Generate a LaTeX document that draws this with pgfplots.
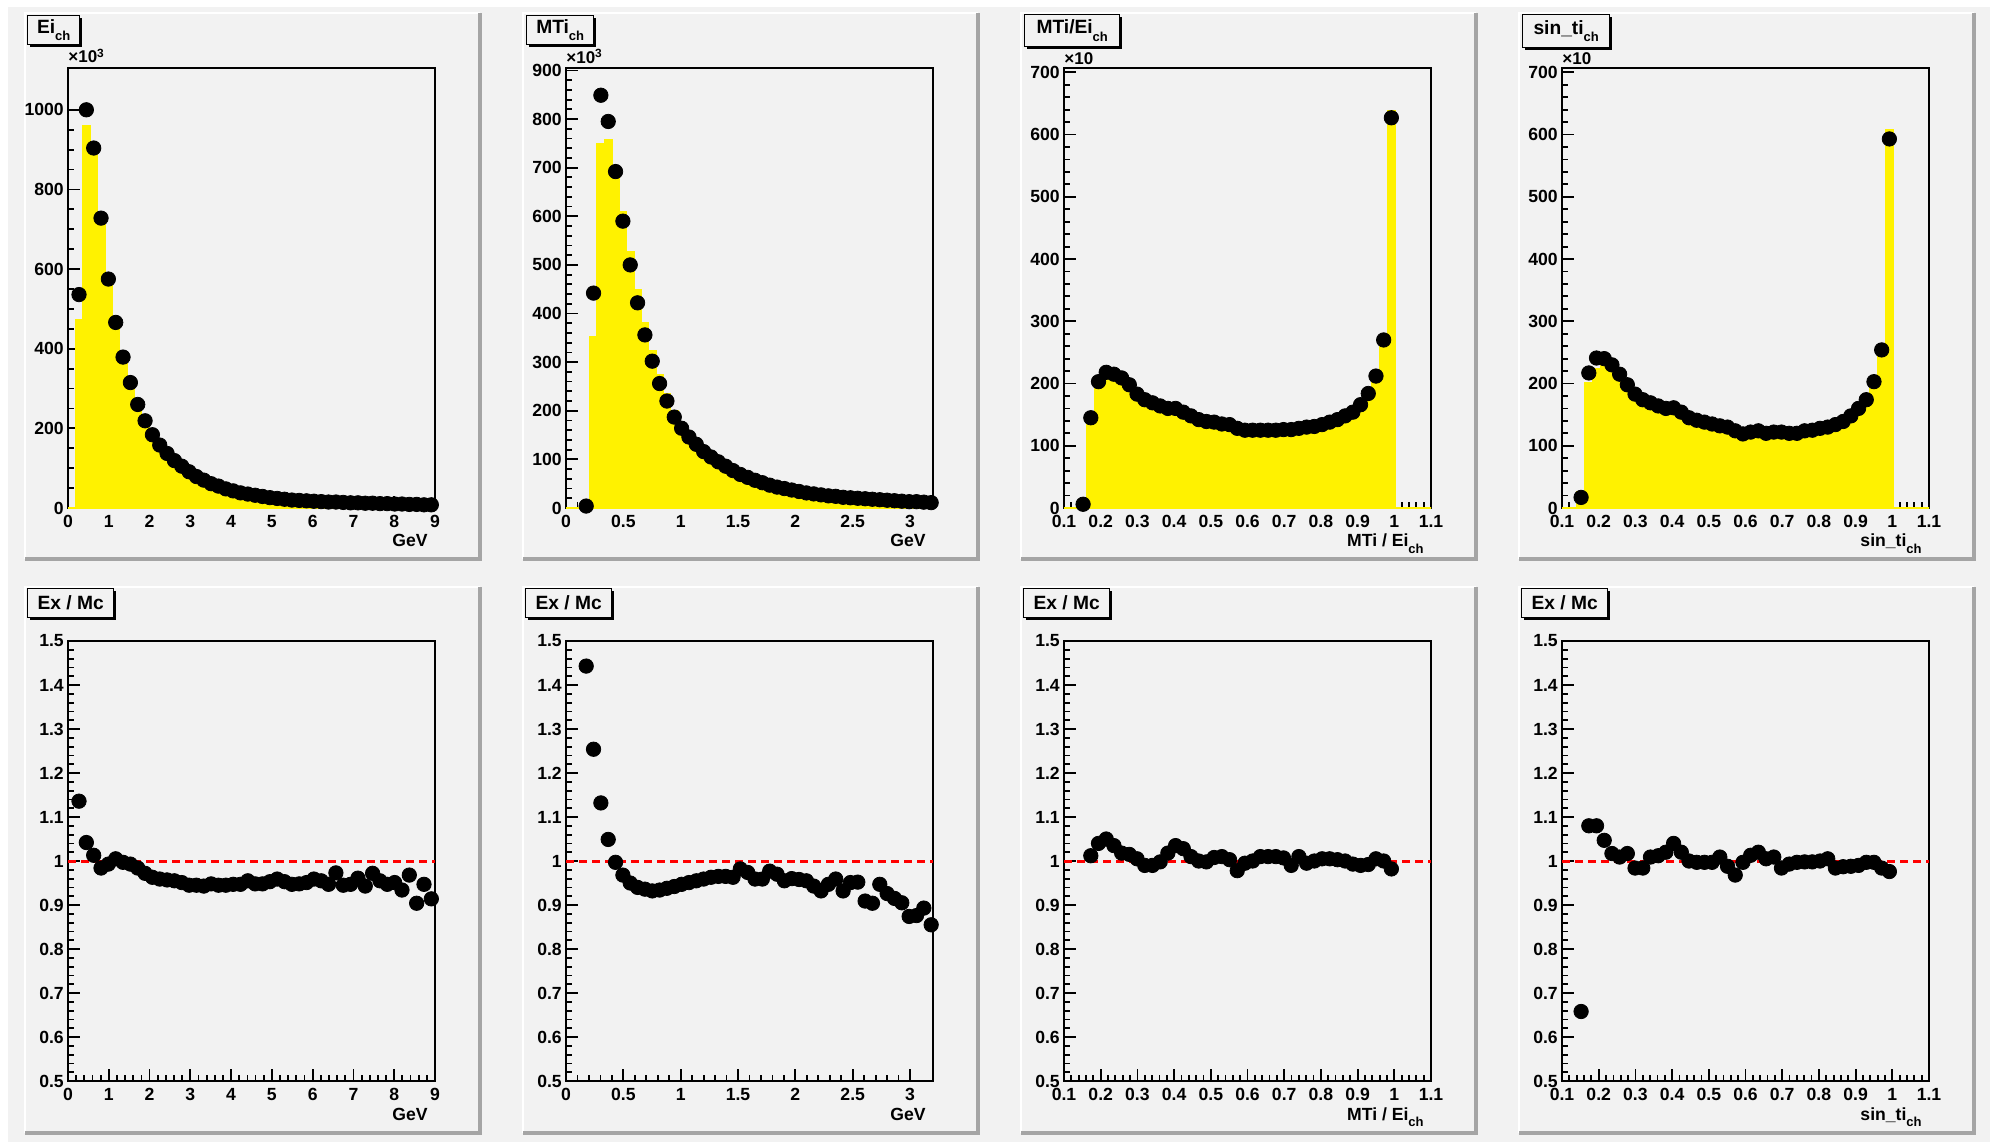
\documentclass[border=0pt]{standalone}
\usepackage{fontspec}
\setmainfont{Liberation Sans}
\usepackage{pgfplots}
\pgfplotsset{compat=1.18}
\usepackage{pgfplotstable}
\usetikzlibrary{shadows}
\definecolor{padgray}{RGB}{242,242,242}
\definecolor{bevel}{RGB}{165,165,165}
\newcommand{\sub}[1]{\raisebox{-0.75ex}{\fontsize{6.5}{6.5}\selectfont\bfseries #1}}

\pgfplotstableread{
e x d r m
0 nan nan nan 0
0.18 0.27 536 1.136 472
0.36 0.45 1000 1.042 960
0.54 0.63 904 1.013 892
0.72 0.81 728 0.984 715
0.90 0.99 575 0.993 579
1.08 1.17 466 1.005 464
1.26 1.35 379 0.997 380
1.44 1.53 315 0.993 317
1.62 1.71 260 0.984 264
1.80 1.89 219 0.972 225
1.98 2.07 184 0.963 191
2.16 2.25 158 0.959 165
2.34 2.43 137 0.957 143
2.52 2.61 119 0.955 125
2.70 2.79 105 0.951 110
2.88 2.97 91 0.945 96
3.06 3.15 79 0.945 84
3.24 3.33 70 0.943 74
3.42 3.51 61 0.948 64
3.60 3.69 55 0.945 58
3.78 3.87 48 0.945 51
3.96 4.05 43 0.947 45
4.14 4.23 38 0.947 40
4.32 4.41 35 0.955 37
4.50 4.59 32 0.948 34
4.68 4.77 29 0.948 31
4.86 4.95 26 0.953 27
5.04 5.13 24 0.959 25
5.22 5.31 22 0.953 23
5.40 5.49 20 0.947 21
5.58 5.67 19 0.948 20
5.76 5.85 18 0.951 19
5.94 6.03 17 0.959 18
6.12 6.21 16 0.955 17
6.30 6.39 15 0.947 16
6.48 6.57 15 0.973 15
6.66 6.75 14 0.945 15
6.84 6.93 13 0.947 14
7.02 7.11 13 0.961 14
7.20 7.29 12 0.943 13
7.38 7.47 12 0.972 12
7.56 7.65 11 0.955 12
7.74 7.83 11 0.947 12
7.92 8.01 10 0.951 11
8.10 8.19 10 0.934 11
8.28 8.37 9 0.968 9
8.46 8.55 9 0.904 10
8.64 8.73 8 0.947 8
8.82 8.91 8 0.914 9
9.00 nan nan nan 9
}\tA

\pgfplotstableread{
e x d r m
0 nan nan nan 0
0.144 0.176 4 1.443 3
0.208 0.240 442 1.254 352
0.272 0.304 849 1.132 750
0.336 0.368 795 1.049 758
0.400 0.432 692 0.997 694
0.464 0.496 590 0.968 610
0.528 0.560 500 0.950 526
0.592 0.624 422 0.940 449
0.656 0.688 356 0.936 380
0.720 0.752 302 0.932 324
0.784 0.816 256 0.934 274
0.848 0.880 220 0.938 235
0.912 0.944 187 0.942 199
0.976 1.008 164 0.947 173
1.040 1.072 146 0.951 154
1.104 1.136 131 0.955 137
1.168 1.200 116 0.959 121
1.232 1.264 105 0.963 109
1.296 1.328 95 0.965 98
1.360 1.392 86 0.965 89
1.424 1.456 77 0.963 80
1.488 1.520 69 0.982 70
1.552 1.584 63 0.974 65
1.616 1.648 57 0.959 59
1.680 1.712 52 0.959 54
1.744 1.776 47 0.977 48
1.808 1.840 43 0.970 44
1.872 1.904 40 0.955 42
1.936 1.968 37 0.960 39
2.000 2.032 34 0.958 35
2.064 2.096 31 0.955 32
2.128 2.160 29 0.943 31
2.192 2.224 27 0.932 29
2.256 2.288 25 0.947 26
2.320 2.352 24 0.959 25
2.384 2.416 22 0.932 24
2.448 2.480 21 0.951 22
2.512 2.544 20 0.952 21
2.576 2.608 19 0.909 21
2.640 2.672 18 0.904 20
2.704 2.736 17 0.947 18
2.768 2.800 16 0.926 17
2.832 2.864 15 0.915 16
2.896 2.928 14 0.905 15
2.960 2.992 13 0.874 15
3.024 3.056 13 0.876 15
3.088 3.120 12 0.893 13
3.152 3.184 11 0.855 13
3.200 nan nan nan 13
}\tB

\pgfplotstableread{
e x d r m
0.1 nan nan nan 0
0.1415 0.152 6 nan 0
0.1625 0.173 145 1.012 143
0.1835 0.194 203 1.040 195
0.2045 0.215 218 1.050 208
0.2255 0.236 215 1.035 208
0.2465 0.257 209 1.018 205
0.2675 0.278 198 1.015 195
0.2885 0.299 183 1.005 182
0.3095 0.320 174 0.990 176
0.3305 0.341 169 0.990 171
0.3515 0.362 164 0.998 164
0.3725 0.383 160 1.018 157
0.3935 0.404 160 1.035 155
0.4145 0.425 154 1.028 150
0.4355 0.446 148 1.010 147
0.4565 0.467 142 1.000 142
0.4775 0.488 139 0.998 139
0.4985 0.509 138 1.008 137
0.5195 0.530 135 1.010 134
0.5405 0.551 134 1.003 134
0.5615 0.572 128 0.978 131
0.5825 0.593 125 0.995 126
0.6035 0.614 125 1.000 125
0.6245 0.635 125 1.010 124
0.6455 0.656 125 1.010 124
0.6665 0.677 125 1.010 124
0.6875 0.698 126 1.007 125
0.7085 0.719 126 0.990 127
0.7295 0.740 128 1.010 127
0.7505 0.761 130 0.995 131
0.7715 0.782 131 1.000 131
0.7925 0.803 134 1.005 133
0.8135 0.824 138 1.005 137
0.8345 0.845 142 1.003 142
0.8555 0.866 148 1.000 148
0.8765 0.887 154 0.993 155
0.8975 0.908 166 0.990 168
0.9185 0.929 184 0.992 185
0.9395 0.950 212 1.005 211
0.9605 0.971 270 1.000 270
0.9815 0.992 627 0.982 638
1.0025 nan nan nan 0
1.1 nan nan nan 0
}\tC

\pgfplotstableread{
e x d r m
0.1 nan nan nan 0
0.1415 0.152 17 0.658 26
0.1625 0.173 217 1.080 201
0.1835 0.194 241 1.080 223
0.2045 0.215 240 1.047 229
0.2255 0.236 230 1.017 226
0.2465 0.257 215 1.009 213
0.2675 0.278 198 1.017 195
0.2885 0.299 183 0.984 186
0.3095 0.320 174 0.984 177
0.3305 0.341 169 1.009 167
0.3515 0.362 164 1.012 162
0.3725 0.383 160 1.020 157
0.3935 0.404 161 1.040 155
0.4145 0.425 154 1.020 151
0.4355 0.446 145 1.000 145
0.4565 0.467 141 0.997 141
0.4775 0.488 138 0.997 138
0.4985 0.509 135 0.997 135
0.5195 0.530 132 1.009 131
0.5405 0.551 130 0.988 132
0.5615 0.572 124 0.968 128
0.5825 0.593 119 0.997 119
0.6035 0.614 122 1.013 120
0.6245 0.635 124 1.020 122
0.6455 0.656 120 1.005 119
0.6665 0.677 122 1.009 121
0.6875 0.698 122 0.984 124
0.7085 0.719 120 0.993 121
0.7295 0.740 120 0.997 120
0.7505 0.761 124 0.998 124
0.7715 0.782 125 0.998 125
0.7925 0.803 128 1.000 128
0.8135 0.824 130 1.005 129
0.8345 0.845 134 0.984 136
0.8555 0.866 139 0.987 141
0.8765 0.887 148 0.988 150
0.8975 0.908 160 0.990 162
0.9185 0.929 174 0.997 174
0.9395 0.950 203 0.997 204
0.9605 0.971 254 0.984 258
0.9815 0.992 593 0.976 608
1.0025 nan nan nan 0
1.1 nan nan nan 0
}\tD

\pgfplotsset{
  rootax/.style={
    scale only axis, width=183.5pt, height=220pt, anchor=south west,
    clip=false,
    axis line style={black, line width=1pt},
    tick align=inside, tick pos=left,
    major tick length=6pt, minor tick length=3pt,
    tick style={black, line width=0.9pt},
    tick label style={font=\fontsize{8.8}{9}\selectfont\bfseries},
    /pgf/number format/assume math mode=true,
    /pgf/number format/1000 sep={},
    scaled ticks=false,
    yticklabel style={xshift=1.4pt},
    axis background/.style={fill=padgray},
  },
  hist/.style={const plot, fill=yellow, draw=yellow, line width=0.8pt},
  dots/.style={only marks, mark=*, mark size=3.6pt, black, mark options={fill=black, draw=black}},
  unity/.style={red, line width=1.5pt, dash pattern=on 4pt off 2.5pt},
  ratioax/.style={rootax, ymin=0.5, ymax=1.5,
    ytick={0.5,0.6,0.7,0.8,0.9,1,1.1,1.2,1.3,1.4,1.5}, minor y tick num=4},
}
\tikzset{
  xlab/.style={anchor=base east, font=\fontsize{8.8}{9}\selectfont\bfseries, inner sep=0pt, xshift=-3.5pt, yshift=-19.5pt},
  mult/.style={anchor=base west, font=\fontsize{8.5}{9}\selectfont\bfseries, inner sep=0pt, yshift=2.5pt},
  tbox/.style={anchor=north west, draw=black, line width=0.7pt, fill=padgray, inner sep=1pt,
    font=\fontsize{9.6}{10}\selectfont\bfseries,
    drop shadow={shadow xshift=1.1pt, shadow yshift=-1.1pt, fill=black, opacity=1}},
}

\begin{document}
\begin{tikzpicture}
\useasboundingbox (0,0) rectangle (995pt,571pt);
\fill[white] (0,0) rectangle (995pt,571pt);
\fill[padgray] (4pt,0) rectangle (995pt,567.5pt);
\foreach \i in {0,1,2,3}{
  \foreach \yb in {291.5,4.5}{
    \pgfmathsetmacro\xa{12.5+249*\i}
    \pgfmathsetmacro\xb{\xa+227.5}
    \pgfmathsetmacro\yt{\yb+273}
    \fill[padgray] (\xa pt,\yb pt) rectangle (\xb pt,\yt pt);
    \draw[white, line width=1pt] (\xa pt,\yb pt) -- (\xa pt,\yt pt) -- (\xb pt,\yt pt);
    \draw[bevel, line width=1.6pt] (\xa pt,\yb pt) -- (\xb pt,\yb pt) -- (\xb pt,\yt pt);
  }
}

% ---------- top row ----------
\begin{axis}[rootax, at={(34pt,317pt)}, xmin=0, xmax=9, ymin=0, ymax=1105,
  xtick={0,1,2,3,4,5,6,7,8,9}, ytick={0,200,400,600,800,1000},
  minor x tick num=4, minor y tick num=3]
  \addplot[hist] table[x=e,y=m] {\tA} \closedcycle;
  \addplot[dots] table[x=x,y=d] {\tA};
  \node[xlab] at (rel axis cs:1,0) {GeV};
  \node[mult] at (rel axis cs:0,1) {×10\textsuperscript{3}};
\end{axis}

\begin{axis}[rootax, at={(283pt,317pt)}, xmin=0, xmax=3.2, ymin=0, ymax=905,
  xtick={0,0.5,1,1.5,2,2.5,3}, ytick={0,100,200,300,400,500,600,700,800,900},
  minor x tick num=4, minor y tick num=4]
  \addplot[hist] table[x=e,y=m] {\tB} \closedcycle;
  \addplot[dots] table[x=x,y=d] {\tB};
  \node[xlab] at (rel axis cs:1,0) {GeV};
  \node[mult] at (rel axis cs:0,1) {×10\textsuperscript{3}};
\end{axis}

\begin{axis}[rootax, at={(532pt,317pt)}, xmin=0.1, xmax=1.1, ymin=0, ymax=707,
  xtick={0.1,0.2,0.3,0.4,0.5,0.6,0.7,0.8,0.9,1,1.1}, ytick={0,100,200,300,400,500,600,700},
  minor x tick num=4, minor y tick num=4]
  \addplot[hist] table[x=e,y=m] {\tC} \closedcycle;
  \addplot[dots] table[x=x,y=d] {\tC};
  \node[xlab] at (rel axis cs:1,0) {MTi / Ei\sub{ch}};
  \node[mult, yshift=-1pt] at (rel axis cs:0,1) {×10};
\end{axis}

\begin{axis}[rootax, at={(781pt,317pt)}, xmin=0.1, xmax=1.1, ymin=0, ymax=707,
  xtick={0.1,0.2,0.3,0.4,0.5,0.6,0.7,0.8,0.9,1,1.1}, ytick={0,100,200,300,400,500,600,700},
  minor x tick num=4, minor y tick num=4]
  \addplot[hist] table[x=e,y=m] {\tD} \closedcycle;
  \addplot[dots] table[x=x,y=d] {\tD};
  \node[xlab] at (rel axis cs:1,0) {sin\_ti\sub{ch}};
  \node[mult, yshift=-1pt] at (rel axis cs:0,1) {×10};
\end{axis}

% ---------- bottom row ----------
\begin{axis}[ratioax, at={(34pt,30.5pt)}, xmin=0, xmax=9,
  xtick={0,1,2,3,4,5,6,7,8,9}, minor x tick num=4]
  \addplot[dots] table[x=x,y=r] {\tA};
  \addplot[unity] coordinates {(0,1) (9,1)};
  \node[xlab] at (rel axis cs:1,0) {GeV};
\end{axis}

\begin{axis}[ratioax, at={(283pt,30.5pt)}, xmin=0, xmax=3.2,
  xtick={0,0.5,1,1.5,2,2.5,3}, minor x tick num=4]
  \addplot[dots] table[x=x,y=r] {\tB};
  \addplot[unity] coordinates {(0,1) (3.2,1)};
  \node[xlab] at (rel axis cs:1,0) {GeV};
\end{axis}

\begin{axis}[ratioax, at={(532pt,30.5pt)}, xmin=0.1, xmax=1.1,
  xtick={0.1,0.2,0.3,0.4,0.5,0.6,0.7,0.8,0.9,1,1.1}, minor x tick num=4]
  \addplot[dots] table[x=x,y=r] {\tC};
  \addplot[unity] coordinates {(0.1,1) (1.1,1)};
  \node[xlab] at (rel axis cs:1,0) {MTi / Ei\sub{ch}};
\end{axis}

\begin{axis}[ratioax, at={(781pt,30.5pt)}, xmin=0.1, xmax=1.1,
  xtick={0.1,0.2,0.3,0.4,0.5,0.6,0.7,0.8,0.9,1,1.1}, minor x tick num=4]
  \addplot[dots] table[x=x,y=r] {\tD};
  \addplot[unity] coordinates {(0.1,1) (1.1,1)};
  \node[xlab] at (rel axis cs:1,0) {sin\_ti\sub{ch}};
\end{axis}

% ---------- title boxes ----------
\node[tbox, minimum width=26pt, minimum height=14.5pt] at (13.5pt,563.5pt) {Ei\sub{ch}};
\node[tbox, minimum width=33.5pt, minimum height=14.5pt] at (263pt,563.5pt) {MTi\sub{ch}};
\node[tbox, minimum width=47.5pt, minimum height=16pt] at (512pt,564pt) {MTi/Ei\sub{ch}};
\node[tbox, minimum width=43.5pt, minimum height=16.5pt] at (761pt,564pt) {sin\_ti\sub{ch}};
\foreach \i in {0,1,2,3}{
  \pgfmathsetmacro\xt{13.5+249*\i}
  \node[tbox, minimum width=43pt, minimum height=14.5pt] at (\xt pt,277pt) {Ex / Mc};
}
\end{tikzpicture}
\end{document}
